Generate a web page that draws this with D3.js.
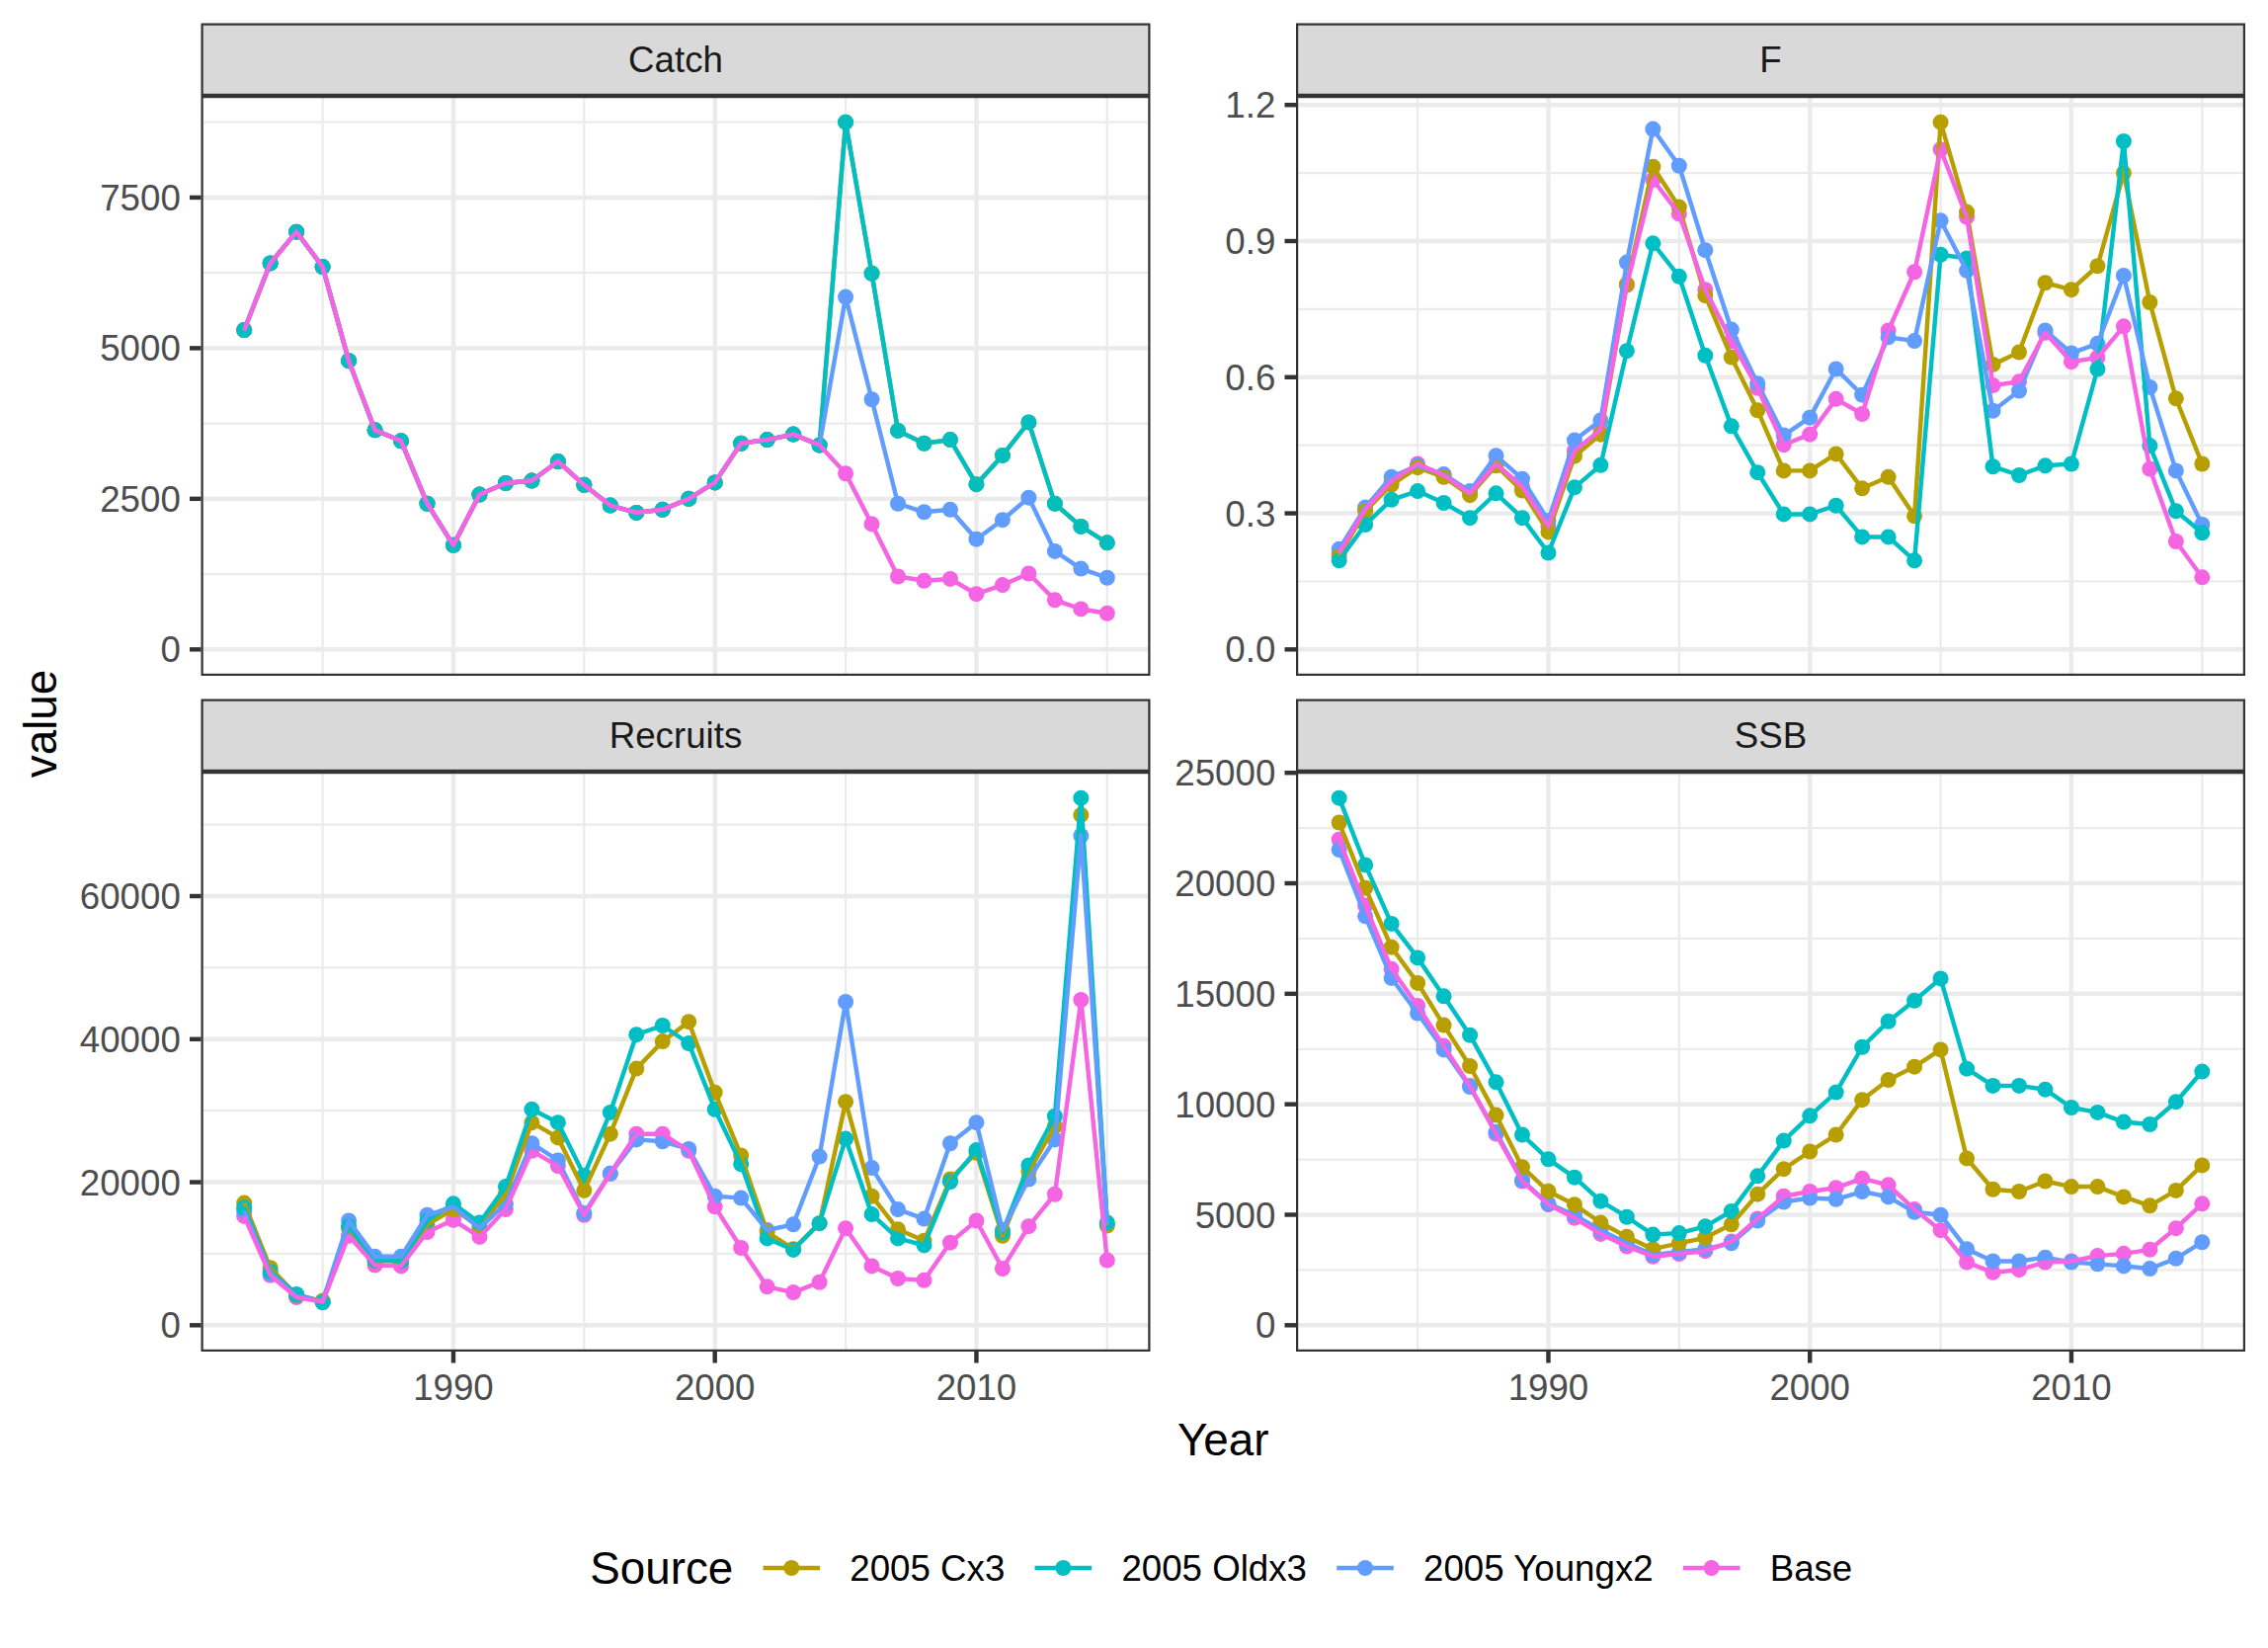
<!DOCTYPE html>
<html><head><meta charset="utf-8">
<script src="https://cdn.jsdelivr.net/npm/d3@7/dist/d3.min.js"></script>
<style>body{margin:0;background:#fff} text{font-family:"Liberation Sans",Arial,sans-serif}</style>
</head><body><svg id="c" width="2296" height="1668" xmlns="http://www.w3.org/2000/svg"></svg>
<script>
// ---------------- data ----------------
const years = [1982,1983,1984,1985,1986,1987,1988,1989,1990,1991,1992,1993,1994,1995,1996,1997,1998,1999,2000,2001,2002,2003,2004,2005,2006,2007,2008,2009,2010,2011,2012,2013,2014,2015];
const sources = ["2005 Cx3","2005 Oldx3","2005 Youngx2","Base"];
const colors = ["#B79F00","#00BFC4","#619CFF","#F564E3"];
const panelNames = ["Catch","F","Recruits","SSB"];

const catchCx3     = [5300,6410,6930,6350,4790,3640,3460,2420,1730,2570,2760,2800,3120,2730,2390,2270,2320,2500,2770,3420,3480,3570,3390,8750,6240,3630,3420,3480,2740,3220,3770,2420,2040,1770];
const catchOldx3   = [5300,6410,6930,6350,4790,3640,3460,2420,1730,2570,2760,2800,3120,2730,2390,2270,2320,2500,2770,3420,3480,3570,3390,8750,6240,3630,3420,3480,2740,3220,3770,2420,2040,1770];
const catchYoungx2 = [5300,6410,6930,6350,4790,3640,3460,2420,1730,2570,2760,2800,3120,2730,2390,2270,2320,2500,2770,3420,3480,3570,3390,5850,4150,2420,2280,2320,1830,2150,2520,1630,1340,1190];
const catchBase    = [5300,6410,6930,6350,4790,3640,3460,2420,1730,2570,2760,2800,3120,2730,2390,2270,2320,2500,2770,3420,3480,3570,3390,2920,2080,1210,1140,1170,920,1070,1260,820,670,600];

const fCx3     = [0.205,0.305,0.363,0.401,0.380,0.340,0.405,0.350,0.259,0.426,0.474,0.805,1.064,0.975,0.780,0.644,0.527,0.394,0.394,0.431,0.355,0.380,0.294,1.162,0.964,0.628,0.655,0.808,0.793,0.845,1.050,0.765,0.553,0.409];
const fOldx3   = [0.196,0.275,0.330,0.349,0.323,0.290,0.344,0.290,0.213,0.357,0.406,0.658,0.895,0.822,0.648,0.492,0.390,0.298,0.298,0.317,0.248,0.248,0.196,0.870,0.862,0.403,0.384,0.405,0.409,0.618,1.120,0.449,0.305,0.257];
const fYoungx2 = [0.221,0.313,0.380,0.405,0.386,0.349,0.427,0.376,0.284,0.461,0.505,0.853,1.147,1.066,0.880,0.705,0.586,0.472,0.511,0.618,0.561,0.688,0.680,0.945,0.835,0.526,0.570,0.703,0.653,0.674,0.824,0.578,0.394,0.275];
const fBase    = [0.212,0.309,0.371,0.409,0.384,0.344,0.409,0.359,0.271,0.438,0.484,0.803,1.035,0.960,0.793,0.680,0.576,0.451,0.474,0.552,0.519,0.703,0.832,1.102,0.953,0.582,0.590,0.698,0.634,0.643,0.712,0.398,0.238,0.159];

const recCx3     = [17100,8020,4220,3380,13560,8970,8970,14090,16200,13830,18310,28340,26230,18840,26750,35880,39680,42430,32560,23750,13030,10660,14250,31240,18050,13400,11820,20420,24120,12510,21480,27810,71350,13930];
const recOldx3   = [16460,7490,4330,3170,13830,9080,8970,14620,16990,14350,19370,30180,28340,20950,29760,40630,41900,39420,30180,22530,12140,10550,14250,26070,15510,12140,11190,20050,24490,13030,22370,29230,73720,14350];
const recYoungx2 = [15940,7230,4060,3380,14620,9600,9600,15410,16570,13560,16990,25430,23060,15670,21210,25960,25700,24640,18050,17780,13300,14090,23590,45220,22000,16200,14880,25430,28340,13300,20420,25960,68440,14090];
const recBase    = [15250,6970,3900,3270,12510,8390,8280,13030,14720,12350,16200,24380,22270,15410,21210,26750,26750,24380,16570,10820,5380,4590,6020,13560,8280,6540,6280,11560,14620,7920,13830,18310,45490,9080];

const ssbCx3     = [22750,19790,17110,15490,13580,11730,9510,7160,6060,5460,4640,4000,3450,3710,3960,4560,5930,7070,7860,8620,10200,11100,11700,12470,7550,6150,6050,6520,6270,6270,5810,5410,6100,7240];
const ssbOldx3   = [23860,20830,18170,16630,14890,13130,11000,8620,7510,6690,5620,4900,4100,4170,4470,5160,6750,8350,9480,10540,12590,13750,14690,15690,11610,10840,10840,10670,9850,9630,9200,9090,10110,11480];
const ssbYoungx2 = [21520,18510,15710,14120,12470,10790,8740,6560,5500,4990,4300,3710,3190,3310,3450,3710,4730,5580,5760,5700,6050,5810,5120,4990,3450,2900,2900,3070,2850,2770,2680,2560,3020,3760];
const ssbBase    = [21980,18990,16120,14460,12640,10830,8660,6520,5460,4850,4130,3570,3110,3230,3360,3790,4820,5840,6050,6220,6640,6350,5240,4300,2850,2390,2510,2850,2900,3140,3240,3420,4390,5500];

const xTicks = [1990,2000,2010];
const xTickLabels = ["1990","2000","2010"];
const catchTicks = [0,2500,5000,7500];
const catchTickLabels = ["0","2500","5000","7500"];
const fTicks = [0,0.3,0.6,0.9,1.2];
const fTickLabels = ["0.0","0.3","0.6","0.9","1.2"];
const recTicks = [0,20000,40000,60000];
const recTickLabels = ["0","20000","40000","60000"];
const ssbTicks = [0,5000,10000,15000,20000,25000];
const ssbTickLabels = ["0","5000","10000","15000","20000","25000"];

const panelSeries = [
  [catchCx3,catchOldx3,catchYoungx2,catchBase],
  [fCx3,fOldx3,fYoungx2,fBase],
  [recCx3,recOldx3,recYoungx2,recBase],
  [ssbCx3,ssbOldx3,ssbYoungx2,ssbBase]
];
const panelTicks = [[catchTicks,catchTickLabels],[fTicks,fTickLabels],[recTicks,recTickLabels],[ssbTicks,ssbTickLabels]];

// ---------------- layout ----------------
const svg = d3.select("#c");
const pw = 961, ph = 587, stripH = 73.5;
const layout = [{x:203.5,y:97},{x:1312,y:97},{x:203.5,y:781},{x:1312,y:781}];
const lw = 4.44;
const tickLen = 11.5, tickGap = 9.2;
const fsTick = 36.7, fsTitle = 45.8;
const pointOrder = [3,2,0,1];
const xSpan = d3.extent(years), xPad = 0.05*(xSpan[1]-xSpan[0]);
const xDomain = [xSpan[0]-xPad, xSpan[1]+xPad];

function minorBreaks(major, dom){
  const step = major[1]-major[0];
  const ext = [major[0]-step, ...major, major[major.length-1]+step];
  const out = [];
  for(let i=0;i<ext.length-1;i++){const m=(ext[i]+ext[i+1])/2; if(m>=dom[0]&&m<=dom[1]) out.push(m);}
  return out;
}

const defs = svg.append("defs");

panelNames.forEach((name,i)=>{
  const L = layout[i];
  const series = panelSeries[i];
  const x = d3.scaleLinear().domain(xDomain).range([L.x, L.x+pw]);
  const mx = d3.max(series.flat());
  const y = d3.scaleLinear().domain([-0.05*mx, 1.05*mx]).range([L.y+ph, L.y]);
  const [yt, ytl] = panelTicks[i];
  const ytIn = yt.filter(v=>v>=y.domain()[0]&&v<=y.domain()[1]);

  defs.append("clipPath").attr("id","clip"+i).append("rect")
    .attr("x",L.x).attr("y",L.y).attr("width",pw).attr("height",ph);
  defs.append("clipPath").attr("id","sclip"+i).append("rect")
    .attr("x",L.x).attr("y",L.y-stripH).attr("width",pw).attr("height",stripH);

  const g = svg.append("g").attr("clip-path",`url(#clip${i})`);
  g.append("rect").attr("x",L.x).attr("y",L.y).attr("width",pw).attr("height",ph).attr("fill","#fff");
  const xMajor = xTicks.filter(v=>v>=xDomain[0]&&v<=xDomain[1]);
  const xMinor = minorBreaks(xTicks, xDomain);
  const yMinor = minorBreaks(yt, y.domain());
  g.selectAll(null).data(yMinor).join("line").attr("x1",L.x).attr("x2",L.x+pw)
    .attr("y1",d=>y(d)).attr("y2",d=>y(d)).attr("stroke","#EBEBEB").attr("stroke-width",lw/2);
  g.selectAll(null).data(xMinor).join("line").attr("y1",L.y).attr("y2",L.y+ph)
    .attr("x1",d=>x(d)).attr("x2",d=>x(d)).attr("stroke","#EBEBEB").attr("stroke-width",lw/2);
  g.selectAll(null).data(ytIn).join("line").attr("x1",L.x).attr("x2",L.x+pw)
    .attr("y1",d=>y(d)).attr("y2",d=>y(d)).attr("stroke","#EBEBEB").attr("stroke-width",lw);
  g.selectAll(null).data(xMajor).join("line").attr("y1",L.y).attr("y2",L.y+ph)
    .attr("x1",d=>x(d)).attr("x2",d=>x(d)).attr("stroke","#EBEBEB").attr("stroke-width",lw);

  // points
  pointOrder.forEach(s=>{
    g.selectAll(null).data(series[s]).join("circle")
      .attr("cx",(d,k)=>x(years[k])).attr("cy",d=>y(d)).attr("r",8).attr("fill",colors[s]);
  });
  // lines
  const line = d3.line().x((d,k)=>x(years[k])).y(d=>y(d));
  series.forEach((vals,s)=>{
    g.append("path").attr("d",line(vals)).attr("fill","none").attr("stroke",colors[s])
      .attr("stroke-width",lw).attr("stroke-linejoin","round");
  });
  // border
  g.append("rect").attr("x",L.x).attr("y",L.y).attr("width",pw).attr("height",ph)
    .attr("fill","none").attr("stroke","#333333").attr("stroke-width",lw);

  // strip
  const sg = svg.append("g").attr("clip-path",`url(#sclip${i})`);
  sg.append("rect").attr("x",L.x).attr("y",L.y-stripH).attr("width",pw).attr("height",stripH)
    .attr("fill","#D9D9D9").attr("stroke","#333333").attr("stroke-width",lw);
  svg.append("text").attr("x",L.x+pw/2).attr("y",L.y-stripH/2+13.1).attr("text-anchor","middle")
    .attr("font-size",fsTick).attr("fill","#1A1A1A").text(name);

  // y axis
  svg.selectAll(null).data(ytIn).join("line").attr("x1",L.x-tickLen).attr("x2",L.x)
    .attr("y1",d=>y(d)).attr("y2",d=>y(d)).attr("stroke","#333333").attr("stroke-width",lw);
  svg.selectAll(null).data(ytIn).join("text").attr("x",L.x-tickLen-tickGap).attr("y",d=>y(d)+13.1)
    .attr("text-anchor","end").attr("font-size",fsTick).attr("fill","#4D4D4D")
    .text(d=>ytl[yt.indexOf(d)]);

  // x axis (bottom row only)
  if(i>=2){
    svg.selectAll(null).data(xMajor).join("line").attr("y1",L.y+ph).attr("y2",L.y+ph+tickLen)
      .attr("x1",d=>x(d)).attr("x2",d=>x(d)).attr("stroke","#333333").attr("stroke-width",lw);
    svg.selectAll(null).data(xMajor).join("text").attr("x",d=>x(d)).attr("y",L.y+ph+tickLen+tickGap+28)
      .attr("text-anchor","middle").attr("font-size",fsTick).attr("fill","#4D4D4D")
      .text(d=>xTickLabels[xTicks.indexOf(d)]);
  }
});

// axis titles
const plotLeft = layout[0].x, plotRight = layout[1].x+pw;
svg.append("text").attr("x",(plotLeft+plotRight)/2).attr("y",1473).attr("text-anchor","middle")
  .attr("font-size",fsTitle).attr("fill","#000").text("Year");
const yMid = (layout[0].y + layout[2].y + ph)/2;
svg.append("text").attr("transform",`translate(57,${yMid}) rotate(-90)`).attr("text-anchor","middle")
  .attr("font-size",fsTitle).attr("fill","#000").text("value");

// legend
const legY = 1587, keyW = 72, gap = 23;
const lg = svg.append("g");
const title = lg.append("text").attr("y",legY+16.4).attr("font-size",fsTitle).attr("fill","#000").text("Source");
const titleW = title.node().getComputedTextLength();
const labs = sources.map(s=>{
  const t = lg.append("text").attr("y",legY+13.1).attr("font-size",fsTick).attr("fill","#000").text(s);
  return [t, t.node().getComputedTextLength()];
});
let total = titleW + gap + labs.reduce((a,[t,w])=>a+keyW+gap+w,0) + gap*(labs.length-1);
let cx = (plotLeft+plotRight)/2 - total/2 - 2;
title.attr("x",cx); cx += titleW + gap;
labs.forEach(([t,w],s)=>{
  lg.append("circle").attr("cx",cx+keyW/2).attr("cy",legY).attr("r",8).attr("fill",colors[s]);
  lg.append("line").attr("x1",cx+0.1*keyW).attr("x2",cx+0.9*keyW).attr("y1",legY).attr("y2",legY)
    .attr("stroke",colors[s]).attr("stroke-width",lw);
  cx += keyW + gap;
  t.attr("x",cx); cx += w + gap;
});
</script></body></html>
